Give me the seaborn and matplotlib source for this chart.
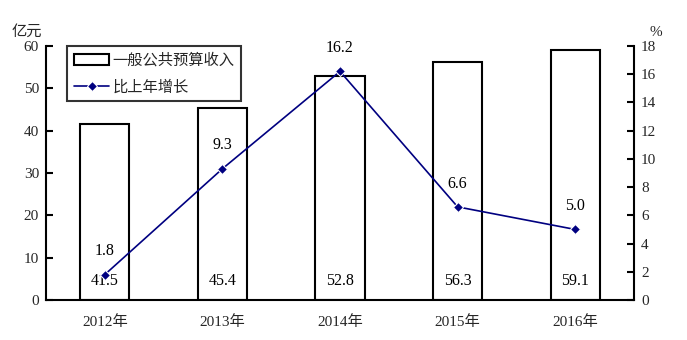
import matplotlib
matplotlib.use("Agg")
import matplotlib.pyplot as plt
import seaborn as sns
import pandas as pd
import numpy as np

years = ["2012年", "2013年", "2014年", "2015年", "2016年"]
revenue = [41.5, 45.4, 52.8, 56.3, 59.1]
growth = [1.8, 9.3, 16.2, 6.6, 5.0]
bar_name = "一般公共预算收入"
line_name = "比上年增长"

sns.set_theme(style="white")
plt.rcParams['font.family'] = ['Liberation Serif', 'Noto Sans CJK SC']
plt.rcParams['axes.unicode_minus'] = False

df = pd.DataFrame({"year": years, "revenue": revenue, "growth": growth})

fig = plt.figure(figsize=(6.87, 3.40), dpi=100)
ax = fig.add_axes([46/687, 40/340, 588/687, 254/340])

sns.barplot(data=df, x="year", y="revenue", ax=ax, width=0.42,
            facecolor="white", edgecolor="black", linewidth=1.5, label=bar_name)
ax.set_xlim(-0.5, 4.5)
ax.set_ylim(0, 60)
ax.set_yticks(np.arange(0, 61, 10))
ax.set_xlabel("")
ax.set_ylabel("")

for i, v in enumerate(revenue):
    ax.annotate(f"{v:.1f}", (i, 0), xytext=(0, 8), textcoords="offset points",
                ha="center", va="bottom", fontsize=11.5, color="black")

ax2 = ax.twinx()
sns.lineplot(x=np.arange(len(years)), y=growth, ax=ax2, color="#000080",
             marker="D", markersize=5, linewidth=1.2, label=line_name, legend=False)
ax2.set_ylim(0, 18)
ax2.set_yticks(np.arange(0, 19, 2))
ax2.set_xlim(-0.5, 4.5)

for i, g in enumerate(growth):
    ax2.annotate(f"{g:.1f}", (i, g), xytext=(0, 11), textcoords="offset points",
                 ha="center", va="bottom", fontsize=11.5, color="black")

for a in (ax, ax2):
    for s in a.spines.values():
        s.set_visible(False)
ax.spines['left'].set_visible(True)
ax.spines['bottom'].set_visible(True)
ax2.spines['right'].set_visible(True)
for s in (ax.spines['left'], ax.spines['bottom'], ax2.spines['right']):
    s.set_color("black")
    s.set_linewidth(1.5)

ax.set_xticks(np.arange(len(years)))
ax.set_xticklabels(years, fontsize=11)
ax.tick_params(axis='x', length=0, pad=11)
ax.set_xticks(np.arange(-0.5, 5, 1), minor=True)
ax.tick_params(axis='x', which='minor', direction='in', length=5, width=1.5, color='black')
ax.tick_params(axis='y', direction='in', length=5, width=1.5, color='black',
               left=True, labelsize=11, pad=5)
ax2.tick_params(axis='y', direction='in', length=5, width=1.5, color='black',
                right=True, labelsize=11, pad=5)
ax2.set_ylabel("")

fig.text(12/687, 1 - 32/340, "亿元", fontsize=11, ha="left", va="center")
fig.text(656/687, 1 - 32/340, "%", fontsize=11, ha="center", va="center")

h1, l1 = ax.get_legend_handles_labels()
h2, l2 = ax2.get_legend_handles_labels()
leg = ax.legend(h1 + h2, l1 + l2, loc="upper left", bbox_to_anchor=(0.036, 1.0),
                borderaxespad=0, frameon=True, fancybox=False, edgecolor="black",
                fontsize=11, handlelength=2.3, handletextpad=0.2,
                borderpad=0.45, labelspacing=0.8)
leg.get_frame().set_linewidth(1.5)
leg.set_zorder(10)

fig.savefig("out.png", dpi=100)
